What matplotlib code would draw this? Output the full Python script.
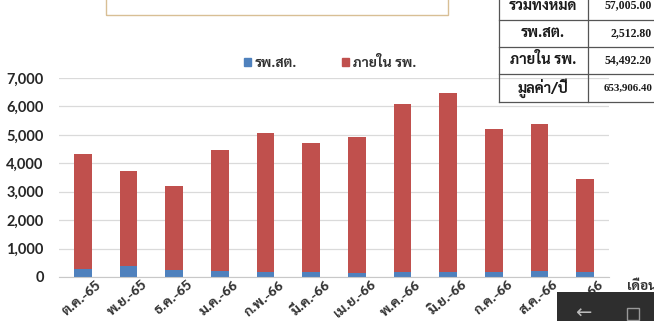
import matplotlib
matplotlib.use("Agg")
import matplotlib.pyplot as plt
from matplotlib.patches import Rectangle, Patch
from matplotlib.lines import Line2D
from matplotlib.ticker import FuncFormatter
from matplotlib.transforms import ScaledTranslation

# monthly values
months = ['ต.ค.-65', 'พ.ย.-65', 'ธ.ค.-65', 'ม.ค.-66', 'ก.พ.-66', 'มี.ค.-66',
          'เม.ย.-66', 'พ.ค.-66', 'มิ.ย.-66', 'ก.ค.-66', 'ส.ค.-66', 'ก.ย.-66']
totals = [4320, 3730, 3200, 4460, 5060, 4730, 4910, 6100, 6470, 5200, 5390, 3440]
rpsot = [265, 375, 260, 195, 190, 190, 150, 160, 165, 165, 215, 185]
inside = [t - b for t, b in zip(totals, rpsot)]

# summary table
table_labels = ['รวมทั้งหมด', 'รพ.สต.', 'ภายใน รพ.', 'มูลค่า/ปี']
table_values = ['57,005.00', '2,512.80', '54,492.20', '653,906.40']

THAI = ['Sarabun', 'DejaVu Sans']
plt.rcParams['font.family'] = THAI

W, H = 654, 321
fig = plt.figure(figsize=(W / 100, H / 100), dpi=100)
fig.patch.set_facecolor('white')

def fx(px):
    return px / W

def fy(py):
    return 1 - py / H

ax = fig.add_axes([fx(59), fy(277), 550 / W, 199 / H])
x = list(range(len(months)))
ax.bar(x, rpsot, width=0.39, color='#4F81BD', zorder=2)
ax.bar(x, inside, width=0.39, bottom=rpsot, color='#C0504D', zorder=2)

ax.set_xlim(-0.52, 11.52)
ax.set_ylim(0, 7000)
ax.set_yticks(range(0, 7001, 1000))
ax.yaxis.set_major_formatter(FuncFormatter(lambda v, p: f'{int(v):,}'))
ax.grid(axis='y', color='#DADADA', linewidth=0.9, zorder=0)
for s in ['top', 'right', 'left']:
    ax.spines[s].set_visible(False)
ax.spines['bottom'].set_color('#C8C8C8')
ax.tick_params(axis='both', length=0)
ax.tick_params(axis='y', pad=11)
for lab in ax.get_yticklabels():
    lab.set_fontfamily(['Lato', 'DejaVu Sans'])
    lab.set_fontweight('bold')
    lab.set_fontsize(10.5)
    lab.set_color('#262626')

ax.set_xticks(x)
ax.set_xticklabels(months, rotation=40, ha='right', rotation_mode='anchor',
                   fontsize=10, fontweight='bold', color='#333333')
ax.tick_params(axis='x', pad=1)
shift = ScaledTranslation(0.13, 0, fig.dpi_scale_trans)
for lab in ax.get_xticklabels():
    lab.set_transform(lab.get_transform() + shift)

# legend
handles = [Patch(color='#4F81BD', label='รพ.สต.'), Patch(color='#C0504D', label='ภายใน รพ.')]
ax.legend(handles=handles, loc='center', bbox_to_anchor=(fx(330), fy(63)),
          bbox_transform=fig.transFigure, ncol=2, frameon=False,
          columnspacing=3.2, handlelength=0.5, handleheight=0.5, handletextpad=0.3,
          prop={'family': THAI, 'weight': 'bold', 'size': 10}, labelcolor='#333333')

# x axis title (cut off at the right edge)
fig.text(fx(627), fy(287), 'เดือน', fontsize=10, fontweight='bold', color='#333333',
         ha='left', va='center')

# title box cut off at the top
fig.add_artist(Rectangle((fx(106), fy(15)), fx(448) - fx(106), fy(-5) - fy(15),
                         transform=fig.transFigure, fill=False, edgecolor='#D8BF95', linewidth=1))

# summary table at the top right
row_lines = [20, 47, 74, 102]
row_centers = [5, 33, 60, 88]
tl = dict(transform=fig.transFigure, color='#555555', linewidth=0.9)
fig.add_artist(Line2D([fx(499), fx(499)], [fy(-2), fy(102)], **tl))
fig.add_artist(Line2D([fx(588), fx(588)], [fy(-2), fy(102)], **tl))
for r in row_lines:
    fig.add_artist(Line2D([fx(499), fx(656)], [fy(r), fy(r)], **tl))
for lab, val, yc in zip(table_labels, table_values, row_centers):
    fig.text(fx(543), fy(yc), lab, ha='center', va='center', fontsize=10.5,
             fontweight='bold', color='#1a1a1a')
    fig.text(fx(652), fy(yc), val, ha='right', va='center',
             fontsize=8.5 if len(val) < 10 else 7.8, fontweight='bold',
             family=['Liberation Serif'], color='#1a1a1a')

# dark navigation overlay at the bottom right of the screenshot
fig.add_artist(Rectangle((fx(557), 0), fx(654) - fx(557), fy(292), transform=fig.transFigure,
                         facecolor='#2E2E2E', edgecolor='none', zorder=5))
fig.text(fx(583), fy(313), '←', fontsize=14, color='#BBBBBB', ha='center', va='center',
         family=['DejaVu Sans'], zorder=6)
fig.add_artist(Rectangle((fx(627), fy(320)), 12 / W, 12 / H, transform=fig.transFigure,
                         fill=False, edgecolor='#999999', linewidth=1, zorder=6))

fig.savefig('out.png', dpi=100)
